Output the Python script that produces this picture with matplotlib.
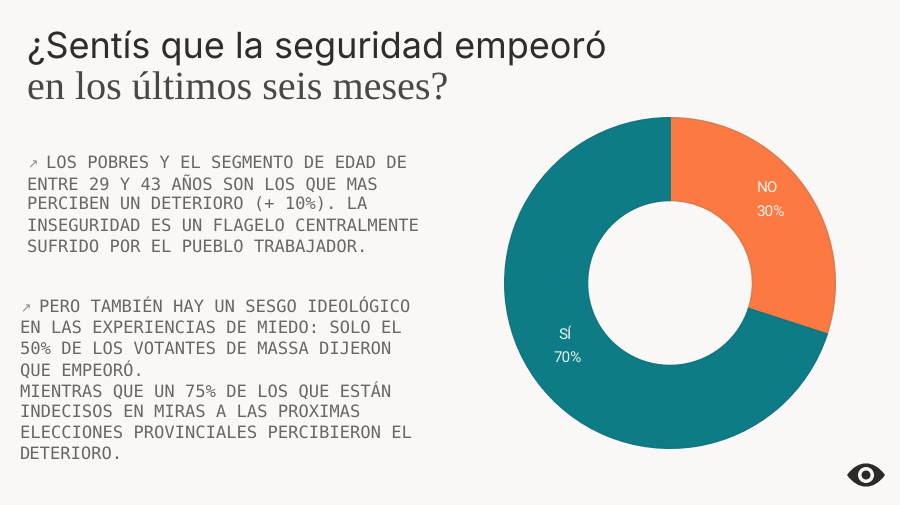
import matplotlib
matplotlib.use('Agg')
import matplotlib.pyplot as plt
from matplotlib.patches import Circle, PathPatch
from matplotlib.path import Path

plt.rcParams['text.hinting'] = 'none'

BG = '#faf8f7'
TEAL = '#0e7c86'
ORANGE = '#fc7a42'
TEXT = '#6b6663'

labels = ['NO', 'SÍ']
values = [30, 70]
colors = [ORANGE, TEAL]
edges = ['#dd7a4e', '#11767f']

title1 = '¿Sentís que la seguridad empeoró'
title2 = 'en los últimos seis meses?'

block1 = ['LOS POBRES Y EL SEGMENTO DE EDAD DE',
          'ENTRE 29 Y 43 AÑOS SON LOS QUE MAS',
          'PERCIBEN UN DETERIORO (+ 10%). LA',
          'INSEGURIDAD ES UN FLAGELO CENTRALMENTE',
          'SUFRIDO POR EL PUEBLO TRABAJADOR.']
block2 = ['PERO TAMBIÉN HAY UN SESGO IDEOLÓGICO',
          'EN LAS EXPERIENCIAS DE MIEDO: SOLO EL',
          '50% DE LOS VOTANTES DE MASSA DIJERON',
          'QUE EMPEORÓ.',
          'MIENTRAS QUE UN 75% DE LOS QUE ESTÁN',
          'INDECISOS EN MIRAS A LAS PROXIMAS',
          'ELECCIONES PROVINCIALES PERCIBIERON EL',
          'DETERIORO.']

W, H = 900, 506
fig = plt.figure(figsize=(W/100, H/100), dpi=100, facecolor=BG)

# page axes in pixels, y going down, kept above the donut
bg = fig.add_axes([0, 0, 1, 1], zorder=2)
bg.set_xlim(0, W)
bg.set_ylim(H, 0)
bg.axis('off')

bg.text(27, 48, title1, fontsize=25.95, family='Inter', color='#2f2d2c', va='center')
bg.text(27, 90, title2, fontsize=28.9, family='Liberation Serif', color='#4a4745', va='center')

def write_block(lines, x, y, step):
    for i, line in enumerate(lines):
        # first line leaves room for the arrow
        lx = x + 19 if i == 0 else x
        bg.text(lx, y + i*step, line, fontsize=12.35, family='DejaVu Sans Mono', color=TEXT, va='center')
    bg.text(x, y + 1, '↗', fontsize=9, family='DejaVu Sans', color='#8d8986', va='center')

write_block(block1, 27, 163.5, 21)
write_block(block2, 20, 307.5, 21)

# donut
cx, cy, r = 670, 284, 166
ax = fig.add_axes([(cx-r)/W, 1-(cy+r)/H, 2*r/W, 2*r/H], zorder=1)
wedges, _ = ax.pie(values, colors=colors, startangle=90, counterclock=False, radius=1,
                   wedgeprops={'width': 0.5, 'linewidth': 1.2})
for w, e in zip(wedges, edges):
    w.set_edgecolor(e)
ax.set_xlim(-1.005, 1.005)
ax.set_ylim(-1.005, 1.005)

bg.text(767, 188, labels[0], color='#fdf3ec', fontsize=11, family='Roboto', ha='center', va='center')
bg.text(770, 212, f'{values[0]}%', color='#fdf3ec', fontsize=11, family='Roboto', ha='center', va='center')
bg.text(565, 335, labels[1], color='#e8f2f2', fontsize=11, family='Roboto', ha='center', va='center')
bg.text(568, 358, f'{values[1]}%', color='#e8f2f2', fontsize=11, family='Roboto', ha='center', va='center')

# eye logo
ex, ey = 866, 476
eye = Path([(ex-19, ey), (ex-8, ey-15.5), (ex+8, ey-15.5), (ex+19, ey), (ex+8, ey+15.5), (ex-8, ey+15.5), (ex-19, ey)],
           [Path.MOVETO, Path.CURVE4, Path.CURVE4, Path.CURVE4, Path.CURVE4, Path.CURVE4, Path.CURVE4])
bg.add_patch(PathPatch(eye, fc='#2b2a29', ec='none', zorder=5))
bg.add_patch(Circle((ex, ey), 8, fc=BG, ec='none', zorder=6))
bg.add_patch(Circle((ex, ey), 4.5, fc='#2b2a29', ec='none', zorder=7))

fig.savefig('out.png', dpi=100, facecolor=BG)
